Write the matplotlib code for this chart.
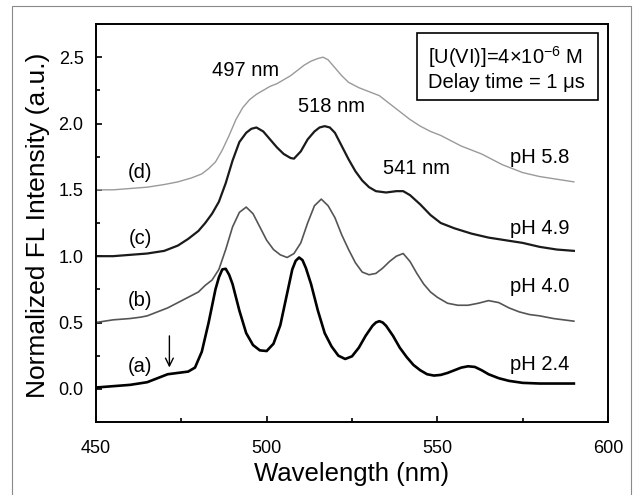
import matplotlib
matplotlib.use("Agg")
import matplotlib.pyplot as plt
from matplotlib.patches import Rectangle
from matplotlib.ticker import MultipleLocator

plt.rcParams['font.family'] = ['Liberation Sans', 'DejaVu Sans']
plt.rcParams['mathtext.fontset'] = 'custom'
plt.rcParams['mathtext.rm'] = 'Liberation Sans'
plt.rcParams['mathtext.it'] = 'Liberation Sans:italic'

# ---- data ----
wl_a = [450, 455, 460, 465, 468, 471, 474, 477, 479, 481, 483, 485, 486, 487, 488, 489, 490,
        492, 494, 496, 498, 500, 502, 504, 506, 507.5, 508.5, 509.5, 510.5, 511.5, 513, 515,
        517, 519, 521, 523, 525, 527, 529, 531, 532, 533, 534, 535, 537, 539, 541, 543, 545,
        547, 549, 551, 553, 555, 557, 559, 561, 563, 565, 568, 571, 575, 580, 585, 590]
ph24 = [0.01, 0.02, 0.03, 0.05, 0.08, 0.11, 0.12, 0.13, 0.16, 0.28, 0.50, 0.75, 0.84, 0.90,
        0.905, 0.86, 0.79, 0.59, 0.42, 0.33, 0.29, 0.285, 0.34, 0.48, 0.72, 0.90, 0.965,
        0.99, 0.97, 0.91, 0.79, 0.59, 0.42, 0.32, 0.25, 0.225, 0.245, 0.31, 0.40, 0.475,
        0.50, 0.51, 0.50, 0.475, 0.40, 0.31, 0.24, 0.18, 0.14, 0.11, 0.10, 0.105, 0.12,
        0.14, 0.16, 0.17, 0.165, 0.14, 0.11, 0.08, 0.06, 0.045, 0.04, 0.04, 0.04]

wl_b = [450, 455, 460, 463, 465, 468, 471, 474, 477, 480, 482, 484, 486, 488, 490, 492, 494,
        496, 498, 500, 502, 504, 506, 508, 510, 512, 514, 516, 518, 520, 522, 524, 526, 528,
        530, 532, 534, 536, 538, 540, 542, 544, 546, 548, 550, 553, 556, 559, 562, 565, 568,
        571, 574, 577, 580, 584, 587, 590]
ph40 = [0.50, 0.52, 0.53, 0.54, 0.55, 0.58, 0.61, 0.65, 0.69, 0.73, 0.78, 0.82, 0.90, 1.05,
        1.22, 1.33, 1.37, 1.32, 1.22, 1.12, 1.05, 1.01, 0.99, 1.02, 1.10, 1.25, 1.38, 1.43,
        1.38, 1.29, 1.16, 1.05, 0.95, 0.88, 0.86, 0.87, 0.91, 0.96, 1.00, 1.02, 0.96, 0.87,
        0.79, 0.73, 0.69, 0.645, 0.63, 0.63, 0.645, 0.665, 0.65, 0.61, 0.58, 0.56, 0.55,
        0.53, 0.52, 0.51]

wl_c = [450, 455, 460, 465, 470, 474, 477, 480, 482, 484, 486, 488, 490, 492, 494, 495.5,
        497, 499, 501, 503, 505, 507, 508, 510, 512, 514, 515.5, 517, 518.5, 520, 522, 524,
        526, 528, 530, 532, 535, 538, 540, 542, 545, 548, 551, 555, 560, 565, 570, 575, 580,
        585, 590]
ph49 = [1.00, 1.00, 1.01, 1.02, 1.04, 1.08, 1.13, 1.19, 1.25, 1.32, 1.41, 1.55, 1.72, 1.86,
        1.93, 1.96, 1.97, 1.94, 1.88, 1.82, 1.77, 1.74, 1.735, 1.79, 1.88, 1.94, 1.97, 1.98,
        1.97, 1.93, 1.83, 1.73, 1.64, 1.57, 1.52, 1.49, 1.48, 1.49, 1.49, 1.46, 1.39, 1.31,
        1.25, 1.21, 1.17, 1.14, 1.12, 1.10, 1.07, 1.05, 1.04]

wl_d = [450, 455, 460, 465, 470, 474, 478, 481, 483, 485, 487, 489, 491, 493, 495, 497, 499,
        501, 503, 505, 507, 509, 511, 513, 515, 516.5, 518, 520, 522, 524, 527, 530, 533, 536,
        539, 542, 545, 548, 551, 554, 557, 560, 563, 566, 569, 572, 575, 580, 585, 590]
ph58 = [1.50, 1.50, 1.51, 1.52, 1.54, 1.56, 1.59, 1.62, 1.66, 1.71, 1.80, 1.91, 2.03, 2.12,
        2.18, 2.22, 2.25, 2.28, 2.30, 2.33, 2.36, 2.40, 2.44, 2.47, 2.49, 2.50, 2.48, 2.42,
        2.36, 2.31, 2.27, 2.24, 2.21, 2.15, 2.09, 2.03, 1.98, 1.94, 1.91, 1.87, 1.83, 1.80,
        1.77, 1.73, 1.69, 1.66, 1.63, 1.60, 1.58, 1.56]

ph_labels = ["pH 5.8", "pH 4.9", "pH 4.0", "pH 2.4"]
letters = ["(d)", "(c)", "(b)", "(a)"]
peak_labels = ["497 nm", "518 nm", "541 nm"]

# ---- figure ----
fig = plt.figure(figsize=(6.33, 4.95), dpi=100)
ax = fig.add_axes([96/633, 73/495, 512/633, 398/495])

ax.plot(wl_d, ph58, color='#9a9a9a', lw=1.0)
ax.plot(wl_c, ph49, color='#1a1a1a', lw=1.6)
ax.plot(wl_b, ph40, color='#555555', lw=1.2)
ax.plot(wl_a, ph24, color='#000000', lw=1.9)

ax.set_xlim(450, 600)
ax.set_ylim(-0.25, 2.75)
ax.xaxis.set_major_locator(MultipleLocator(50))
ax.xaxis.set_minor_locator(MultipleLocator(25))
ax.yaxis.set_major_locator(MultipleLocator(0.5))
ax.yaxis.set_minor_locator(MultipleLocator(0.25))
ax.yaxis.set_major_formatter(plt.FuncFormatter(lambda v, p: f"{v:.1f}"))
ax.tick_params(which='both', direction='in', top=False, right=False, width=1.2,
               labelsize=13, colors='black')
ax.tick_params(axis='x', which='both', pad=13)
ax.tick_params(axis='y', which='both', pad=9)
ax.tick_params(which='major', length=4)
ax.tick_params(which='minor', length=3)
for s in ax.spines.values():
    s.set_linewidth(1.4)

fs = 14.5
# pH labels (right aligned)
for lab, yv in zip(ph_labels, [1.74, 1.21, 0.77, 0.185]):
    ax.text(588.6, yv, lab, ha='right', va='center', fontsize=fs)
for lab, yv in zip(letters, [1.63, 1.13, 0.665, 0.17]):
    ax.text(462.9, yv, lab, ha='center', va='center', fontsize=fs)
for lab, xv, yv in zip(peak_labels, [493.9, 519.1, 543.8], [2.40, 2.13, 1.66]):
    ax.text(xv, yv, lab, ha='center', va='center', fontsize=fs)

# arrow
ax.annotate('', xy=(471.5, 0.14), xytext=(471.5, 0.42),
            arrowprops=dict(arrowstyle='->', color='black', lw=1.0, mutation_scale=14))

# info box
ax.add_patch(Rectangle(((417-96)/512, (422-100)/398), (598-417)/512, (100-33)/398,
                       transform=ax.transAxes, fill=False, ec='black', lw=1.2))
ax.text((428-96)/512, (422-57)/398, "[U(VI)]=4\u00d710$^{\u22126}$ M", transform=ax.transAxes,
        ha='left', va='center', fontsize=fs)
ax.text((428-96)/512, (422-82)/398, "Delay time = 1 \u03bcs", transform=ax.transAxes,
        ha='left', va='center', fontsize=fs)

# axis labels
fig.text(352/633, (495-481.5)/495, "Wavelength (nm)", ha='center', va='baseline', fontsize=18.5)
fig.text(38/633, (495-225)/495, "Normalized FL Intensity (a.u.)", rotation=90,
         ha='center', va='center', fontsize=19)

# scanned outer frame
fig.add_artist(Rectangle((12/633, -0.02), (631-12)/633, (495-6)/495 + 0.02,
                         transform=fig.transFigure, fill=False, ec='#8a8a8a', lw=0.8))

fig.savefig("out.png", dpi=100)
